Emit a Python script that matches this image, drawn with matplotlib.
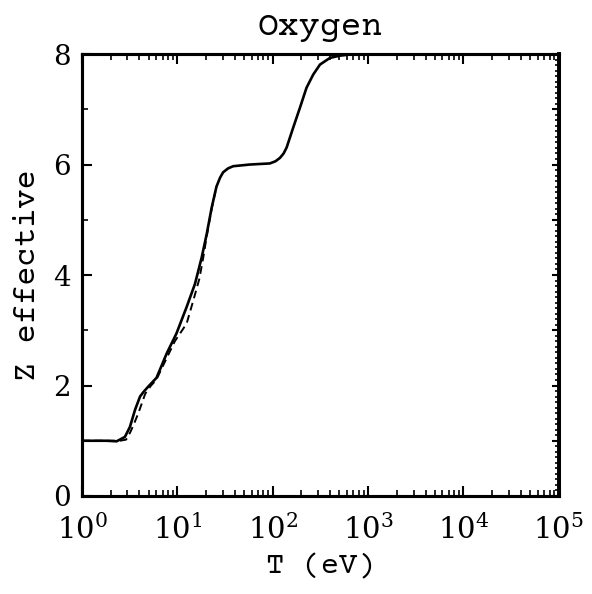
import matplotlib
matplotlib.use("Agg")
import matplotlib.pyplot as plt
from matplotlib.ticker import LogLocator, MultipleLocator, NullFormatter

plt.rcParams['font.family'] = 'DejaVu Serif'
plt.rcParams['mathtext.fontset'] = 'dejavuserif'

# solid curve
t_solid = [1, 1.8, 2.31, 2.82, 3.18, 3.6, 4.06, 4.4, 4.95, 6.05, 7.73, 9.77,
           12.5, 15.3, 18.0, 20.3, 22.9, 25.7, 28.0, 30.2, 34.0, 38.5, 57.5,
           93.3, 107, 119, 130, 140, 164, 193, 226, 266, 313, 398, 501, 708,
           1e5]
z_solid = [1.0, 1.0, 0.99, 1.07, 1.25, 1.56, 1.8, 1.88, 1.98, 2.14, 2.58, 2.94,
           3.42, 3.84, 4.32, 4.74, 5.22, 5.6, 5.76, 5.86, 5.93, 5.97, 6.0,
           6.02, 6.06, 6.12, 6.2, 6.31, 6.67, 7.03, 7.39, 7.63, 7.81, 7.93,
           7.97, 8.0, 8.0]

# dashed curve
t_dash = [1, 2.5, 2.9, 3.2, 3.5, 3.9, 4.6, 5.3, 6.0, 7.5, 9.4, 12.5, 14.7,
          17.0, 18.7, 20.3, 22.9, 25.7]
z_dash = [1.0, 1.0, 1.02, 1.15, 1.3, 1.5, 1.85, 2.0, 2.1, 2.45, 2.8, 3.12,
          3.54, 3.93, 4.32, 4.7, 5.2, 5.6]

x_ticks = [1, 10, 100, 1000, 1e4, 1e5]
x_labels = ['$10^{0}$', '$10^{1}$', '$10^{2}$', '$10^{3}$', '$10^{4}$', '$10^{5}$']
y_ticks = [0, 2, 4, 6, 8]

label_font = 'Courier Prime'

fig = plt.figure(figsize=(5.92, 5.94), dpi=100)
ax = fig.add_axes([0.1385, 0.165, 0.8055, 0.744])

ax.plot(t_dash, z_dash, color='black', lw=1.4, ls=(0, (4, 2.5)))
ax.plot(t_solid, z_solid, color='black', lw=1.9)

ax.set_xscale('log')
ax.set_xlim(1, 1e5)
ax.set_ylim(0, 8)

ax.set_xticks(x_ticks)
ax.set_xticklabels(x_labels)
ax.xaxis.set_minor_locator(LogLocator(base=10, subs=range(2, 10), numticks=20))
ax.xaxis.set_minor_formatter(NullFormatter())
ax.set_yticks(y_ticks)
ax.yaxis.set_minor_locator(MultipleLocator(1))

ax.tick_params(axis='x', which='major', direction='in', length=7, width=1.5,
               labelsize=21, top=True, pad=13)
ax.tick_params(axis='y', which='major', direction='in', length=7, width=1.5,
               labelsize=20, right=False, pad=8)
ax.tick_params(axis='both', which='minor', direction='in', length=4, width=1.2,
               top=True, right=False)

# dense ticks on the right edge
ax2 = ax.twinx()
ax2.set_ylim(0, 8)
ax2.yaxis.set_major_locator(MultipleLocator(1))
ax2.yaxis.set_minor_locator(MultipleLocator(0.1))
ax2.yaxis.set_major_formatter(NullFormatter())
ax2.tick_params(axis='y', which='major', direction='in', length=5, width=1.5)
ax2.tick_params(axis='y', which='minor', direction='in', length=3, width=1.2)

for a in (ax, ax2):
    for s in a.spines.values():
        s.set_linewidth(2.2)
ax2.spines['right'].set_linewidth(2.8)

ax.set_title('Oxygen', fontsize=25, family=label_font, pad=14)
ax.set_xlabel('T (eV)', fontsize=22, family=label_font, labelpad=6)
ax.set_ylabel('Z effective', fontsize=23, family=label_font, labelpad=9)

fig.savefig('out.png', dpi=100)
